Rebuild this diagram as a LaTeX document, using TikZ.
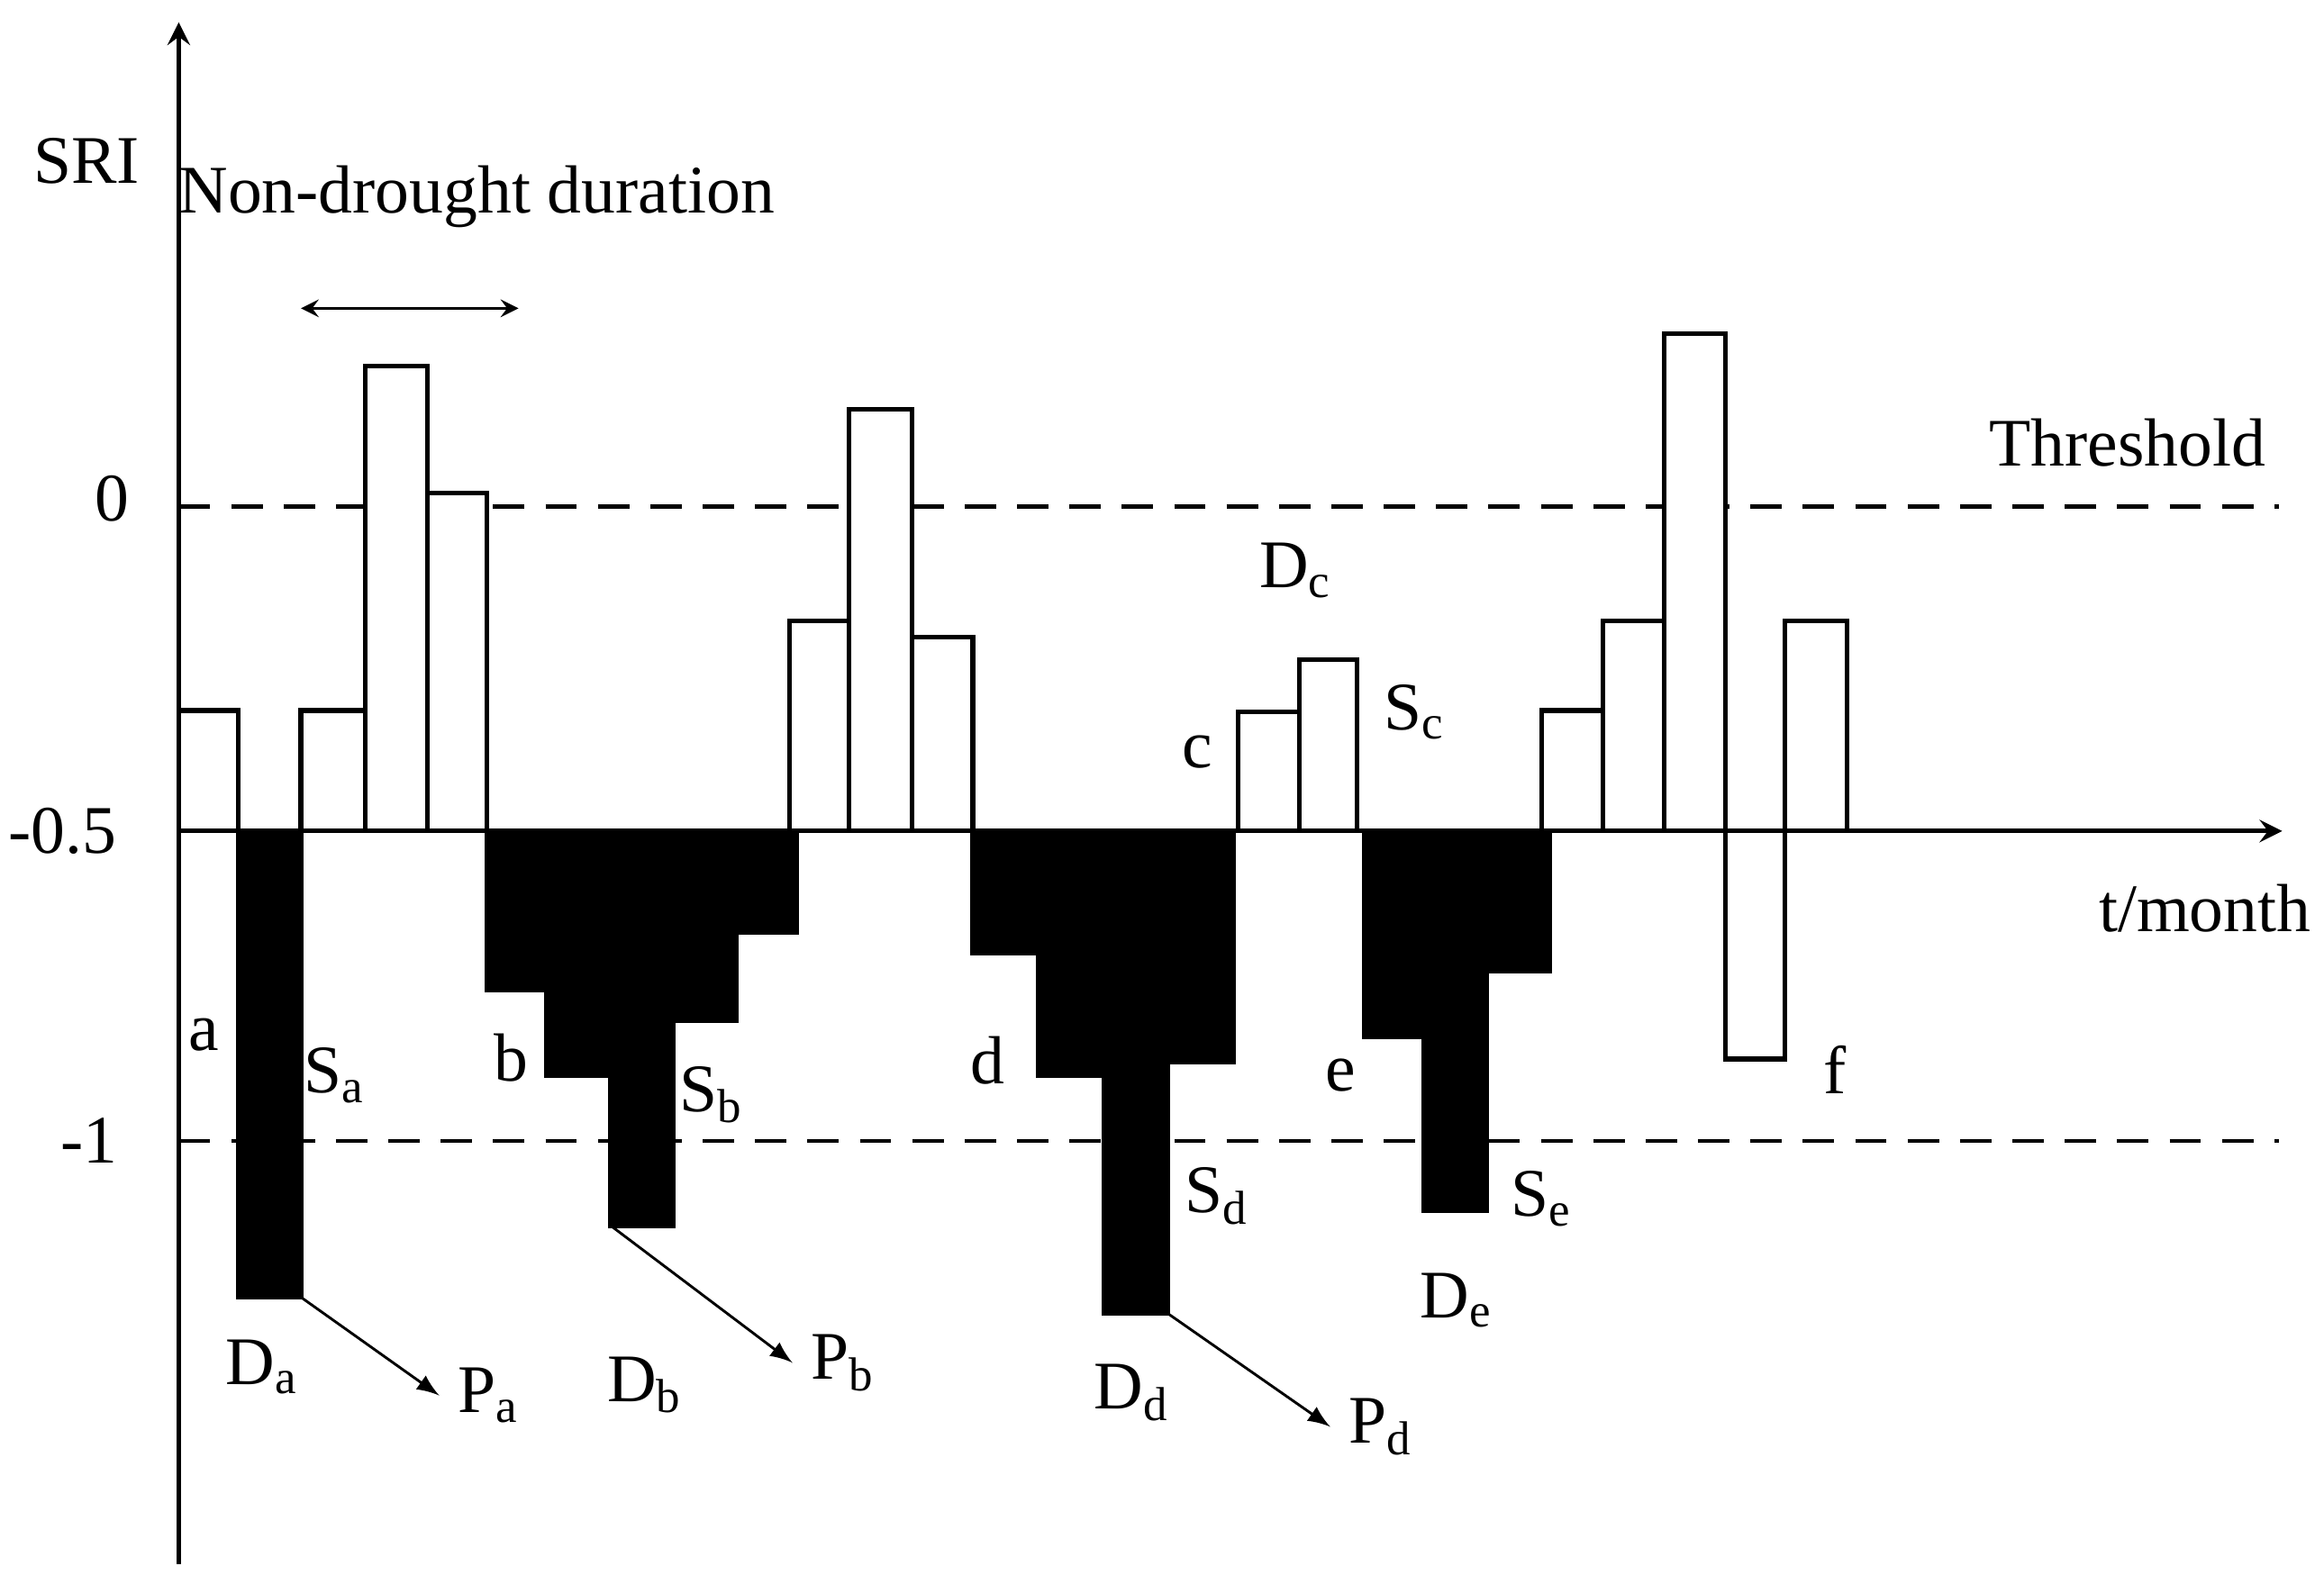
\documentclass[tikz,border=0pt]{standalone}
\usepackage{fontspec}
\setmainfont{Liberation Serif}
\usetikzlibrary{arrows}
\tikzset{
  wetbar/.style = {draw, fill=white, line width=0.9pt},
  drybar/.style = {draw, fill=black, line width=0.9pt},
  lbl/.style = {font=\fontsize{13}{15}\selectfont},
  limit/.style = {dashed, line width=0.8pt, dash pattern=on 6pt off 4pt}
}
\begin{document}
\begin{tikzpicture}[x=0.01cm, y=-0.01cm]
\useasboundingbox (0,0) rectangle (1560,1063);
% reference lines
\coordinate (z0) at (120,340);
\coordinate (z1) at (1530,340);
\coordinate (m0) at (120,766);
\coordinate (m1) at (1530,766);
\draw[limit] (z0) -- (z1);
\draw[limit] (m0) -- (m1);
% bars above -0.5
\foreach \xa/\xb/\yt in {120/160/477, 202/245/477, 245/287/246, 287/327/331,
  530/570/417, 570/612/275, 612/653/428, 831/872/478, 872/911/443,
  1035/1076/477, 1076/1117/417, 1117/1158/224, 1158/1198/711, 1198/1240/417}
  \draw[wetbar] (\xa,558) rectangle (\xb,\yt);
% drought bars
\foreach \xa/\xb/\yb in {160/202/871, 327/367/665, 367/410/722, 410/452/823,
  452/494/685, 494/535/626, 653/697/640, 697/741/722, 741/784/882,
  784/828/713, 916/956/696, 956/998/813, 998/1040/652}
  \draw[drybar] (\xa,558) rectangle (\xb,\yb);
% axes
\coordinate (o) at (120,558);
\coordinate (ytop) at (120,15);
\coordinate (ybot) at (120,1050);
\coordinate (xend) at (1532,558);
\draw[-stealth, line width=0.9pt] (ybot) -- (ytop);
\draw[-stealth, line width=0.9pt] (o) -- (xend);
% labels
\node[lbl] (sri) at (58,108) {SRI};
\node[lbl] (nd) at (320,132) {Non-drought duration};
\coordinate (nda) at (202,207);
\coordinate (ndb) at (348,207);
\draw[stealth-stealth, line width=0.5pt] (nda) -- (ndb);
\node[lbl] (thr) at (1428,297) {Threshold};
\node[lbl] (t0) at (75,335) {0};
\node[lbl] (t05) at (42,558) {-0.5};
\node[lbl] (t1) at (60,766) {-1};
\node[lbl] (tm) at (1480,610) {t/month};
\node[lbl] (la) at (137,695) {a};
\node[lbl] (sa) at (225,722) {S$_\mathrm{a}$};
\node[lbl] (lb) at (343,710) {b};
\node[lbl] (sb) at (478,735) {S$_\mathrm{b}$};
\node[lbl] (ld) at (663,712) {d};
\node[lbl] (sd) at (817,803) {S$_\mathrm{d}$};
\node[lbl] (le) at (900,722) {e};
\node[lbl] (se) at (1035,805) {S$_\mathrm{e}$};
\node[lbl] (lc) at (804,505) {c};
\node[lbl] (sc) at (950,478) {S$_\mathrm{c}$};
\node[lbl] (dc) at (870,383) {D$_\mathrm{c}$};
\node[lbl] (lf) at (1232,718) {f};
\node[lbl] (da) at (176,918) {D$_\mathrm{a}$};
\node[lbl] (pa) at (328,937) {P$_\mathrm{a}$};
\node[lbl] (db) at (433,930) {D$_\mathrm{b}$};
\node[lbl] (pb) at (566,915) {P$_\mathrm{b}$};
\node[lbl] (dd) at (760,935) {D$_\mathrm{d}$};
\node[lbl] (pd) at (927,958) {P$_\mathrm{d}$};
\node[lbl] (de) at (978,873) {D$_\mathrm{e}$};
% peak arrows
\coordinate (ka) at (202,871);
\coordinate (kb) at (410,823);
\coordinate (kd) at (784,882);
\draw[-latex, line width=0.5pt] (ka) -- (pa.west);
\draw[-latex, line width=0.5pt] (kb) -- (pb.west);
\draw[-latex, line width=0.5pt] (kd) -- (pd.west);
\end{tikzpicture}
\end{document}
